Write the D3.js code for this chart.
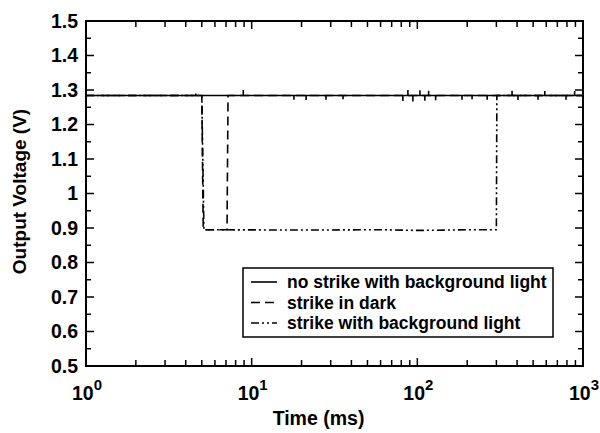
<!DOCTYPE html>
<html>
<head>
<meta charset="utf-8">
<script src="https://cdn.jsdelivr.net/npm/d3@7"></script>
<style>
  body { margin: 0; background: #fff; }
  text { font-family: "Liberation Sans", Arial, sans-serif; font-weight: bold; fill: #000; }
</style>
</head>
<body>
<div id="chart"></div>
<script>
// values
const xTicks = [1, 10, 100, 1000];
const yTicks = [0.5, 0.6, 0.7, 0.8, 0.9, 1, 1.1, 1.2, 1.3, 1.4, 1.5];

// no strike with background light: flat line with narrow noise spikes
const noStrikeT = [1, 4.6, 4.6, 4.6, 8.9, 8.9, 8.9, 18, 18, 18, 21.3, 21.3, 21.3, 28.1, 28.1, 28.1, 35.6, 35.6, 35.6,
  81.8, 81.8, 81.8, 87.7, 87.7, 87.7, 94, 94, 94, 103.7, 103.7, 103.7, 111, 111, 111, 117, 117, 117, 129, 129, 129,
  186, 186, 186, 214, 214, 214, 264, 264, 264, 373, 373, 373, 405, 405, 405, 535, 535, 535, 588, 588, 588,
  790, 790, 790, 890, 890, 890, 1000];
const noStrikeV = [1.284, 1.284, 1.290, 1.284, 1.284, 1.300, 1.284, 1.284, 1.272, 1.284, 1.284, 1.271, 1.284, 1.284, 1.272, 1.284, 1.284, 1.273, 1.284,
  1.284, 1.268, 1.284, 1.284, 1.300, 1.284, 1.284, 1.267, 1.284, 1.284, 1.299, 1.284, 1.284, 1.269, 1.284, 1.284, 1.298, 1.284, 1.284, 1.270, 1.284,
  1.284, 1.272, 1.284, 1.284, 1.273, 1.284, 1.284, 1.272, 1.284, 1.284, 1.298, 1.284, 1.284, 1.271, 1.284, 1.284, 1.272, 1.284, 1.284, 1.297, 1.284,
  1.284, 1.272, 1.284, 1.284, 1.297, 1.284, 1.284];

// strike in dark
const darkT = [1, 5.0, 5.1, 7.1, 7.2, 1000];
const darkV = [1.284, 1.284, 0.895, 0.895, 1.284, 1.284];

// strike with background light
const lightT = [1, 5.0, 5.15, 20, 60, 100, 150, 200, 300, 302, 1000];
const lightV = [1.284, 1.284, 0.895, 0.894, 0.895, 0.893, 0.894, 0.895, 0.895, 1.284, 1.284];

const legendLabels = ["no strike with background light", "strike in dark", "strike with background light"];
const dashes = [null, "9,5", "8,3,2,3,2,3"];

const W = 600, H = 433;
const margin = {top: 21, right: 17, bottom: 67, left: 86};
const width = W - margin.left - margin.right;
const height = H - margin.top - margin.bottom;

const svg = d3.select("#chart").append("svg")
  .attr("width", W).attr("height", H);
const g = svg.append("g")
  .attr("transform", "translate(" + margin.left + "," + margin.top + ")");

const x = d3.scaleLog().domain([1, 1000]).range([0, width]);
const y = d3.scaleLinear().domain([0.5, 1.5]).range([height, 0]);

// minor ticks
const xMinor = [];
for (let d = 1; d < 1000; d *= 10)
  for (let k = 2; k <= 9; k++) xMinor.push(d * k);
const yMinor = d3.range(0, 10).map(i => 0.55 + i * 0.1);

const ticks = g.append("g").attr("stroke", "#000").attr("stroke-width", 1.5);
xTicks.forEach(t => {
  ticks.append("line").attr("x1", x(t)).attr("x2", x(t)).attr("y1", height).attr("y2", height - 8);
  ticks.append("line").attr("x1", x(t)).attr("x2", x(t)).attr("y1", 0).attr("y2", 8);
});
xMinor.forEach(t => {
  ticks.append("line").attr("x1", x(t)).attr("x2", x(t)).attr("y1", height).attr("y2", height - 6);
  ticks.append("line").attr("x1", x(t)).attr("x2", x(t)).attr("y1", 0).attr("y2", 6);
});
yTicks.forEach(t => {
  ticks.append("line").attr("x1", 0).attr("x2", 8).attr("y1", y(t)).attr("y2", y(t));
  ticks.append("line").attr("x1", width).attr("x2", width - 8).attr("y1", y(t)).attr("y2", y(t));
});
yMinor.forEach(t => {
  ticks.append("line").attr("x1", 0).attr("x2", 5).attr("y1", y(t)).attr("y2", y(t));
  ticks.append("line").attr("x1", width).attr("x2", width - 5).attr("y1", y(t)).attr("y2", y(t));
});

// tick labels
g.selectAll(".ylab").data(yTicks).enter().append("text")
  .attr("x", -8).attr("y", d => y(d) + 6.5)
  .attr("text-anchor", "end").attr("font-size", 19.5)
  .text(d => d === 1 ? "1" : d3.format(".1f")(d));

const xl = g.selectAll(".xlab").data(xTicks).enter().append("text")
  .attr("x", d => x(d) + 1).attr("y", height + 34)
  .attr("text-anchor", "middle").attr("font-size", 19.5);
xl.append("tspan").text("10");
xl.append("tspan").attr("dy", -10).attr("font-size", 15).text(d => Math.round(Math.log10(d)));

// axis titles
g.append("text").attr("x", width / 2 - 16).attr("y", height + 59)
  .attr("text-anchor", "middle").attr("font-size", 19.5).text("Time (ms)");
g.append("text").attr("transform", "rotate(-90)")
  .attr("x", -height / 2 + 2).attr("y", -60)
  .attr("text-anchor", "middle").attr("font-size", 19).text("Output Voltage (V)");

// series
const line = d3.line().x(d => x(d[0])).y(d => y(d[1]));
const series = [
  d3.zip(noStrikeT, noStrikeV),
  d3.zip(darkT, darkV),
  d3.zip(lightT, lightV)
];
series.forEach((s, i) => {
  g.append("path").datum(s)
    .attr("d", line)
    .attr("fill", "none").attr("stroke", "#000")
    .attr("stroke-width", 1.6)
    .attr("stroke-dasharray", dashes[i]);
});

// frame
g.append("rect").attr("width", width).attr("height", height)
  .attr("fill", "none").attr("stroke", "#000").attr("stroke-width", 2);

// legend
const lg = g.append("g").attr("transform", "translate(" + (243 - margin.left) + "," + (268 - margin.top) + ")");
lg.append("rect").attr("width", 310).attr("height", 69)
  .attr("fill", "#fff").attr("stroke", "#000").attr("stroke-width", 1.5);
legendLabels.forEach((lab, i) => {
  const yy = 14 + i * 20.5;
  lg.append("line").attr("x1", 8).attr("x2", 34).attr("y1", yy).attr("y2", yy)
    .attr("stroke", "#000").attr("stroke-width", 1.6)
    .attr("stroke-dasharray", dashes[i]);
  lg.append("text").attr("x", 44).attr("y", yy + 6)
    .attr("font-size", 17.5).text(lab);
});
</script>
</body>
</html>
